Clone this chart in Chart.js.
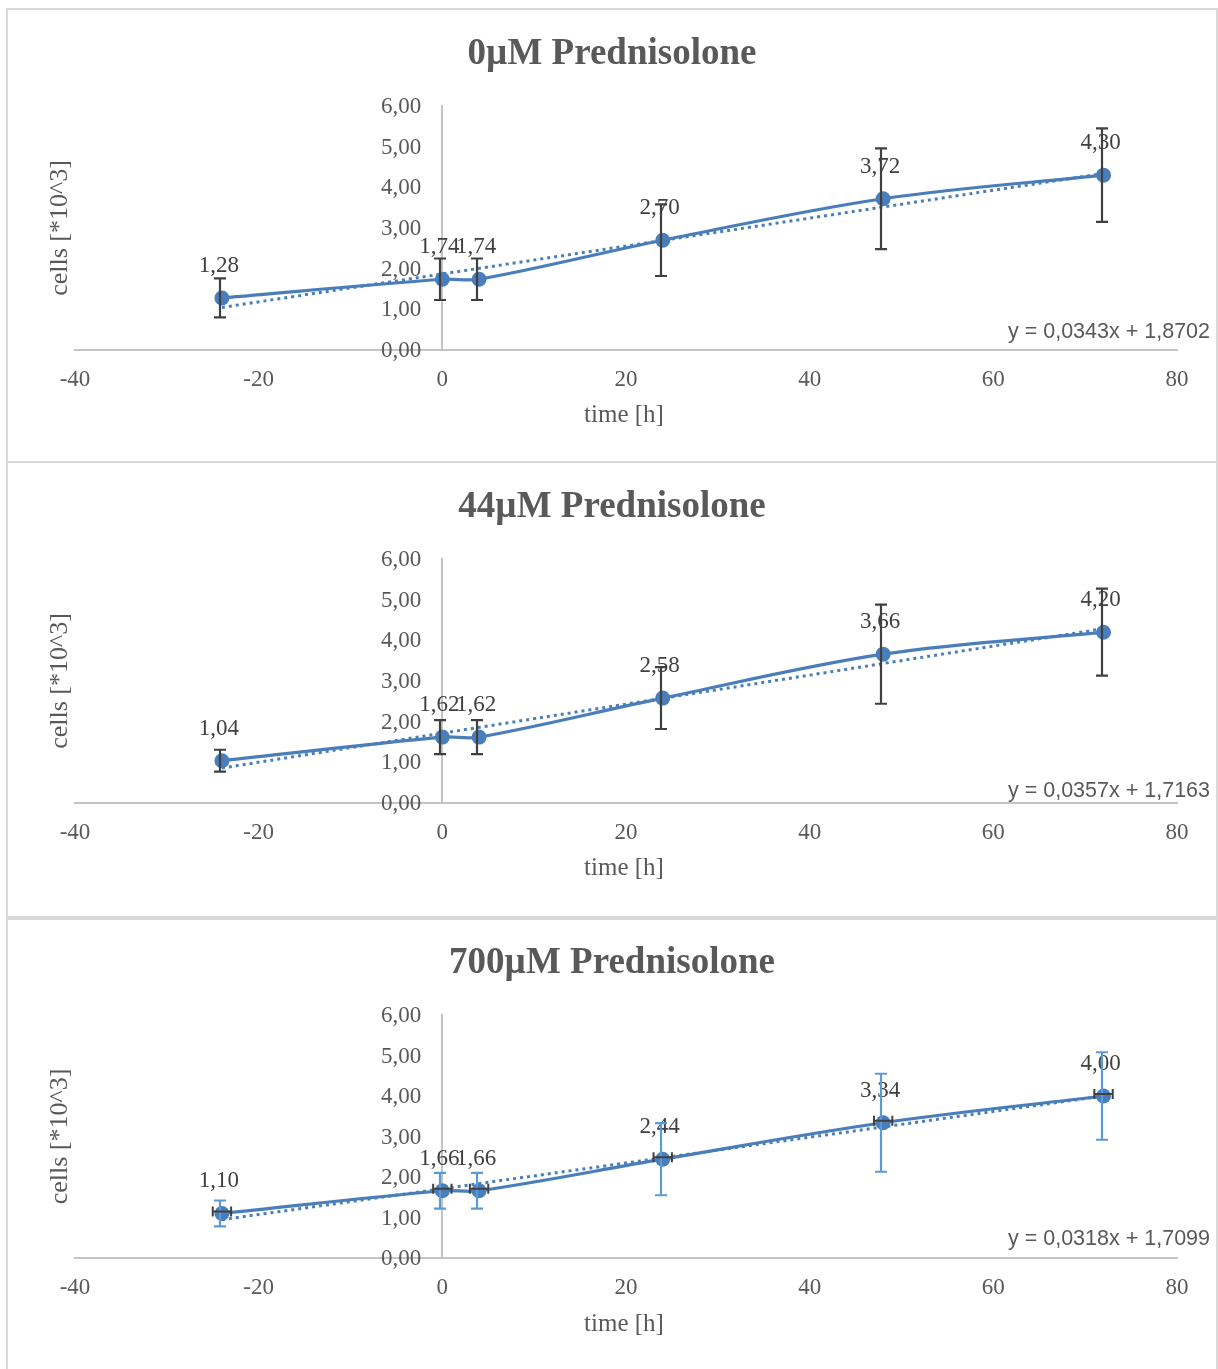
<!DOCTYPE html>
<html>
<head>
<meta charset="utf-8">
<script src="https://cdn.jsdelivr.net/npm/chart.js@4.4.1/dist/chart.umd.min.js"></script>
<style>
  html, body { margin: 0; padding: 0; background: #ffffff; overflow: hidden; }
  #wrap { position: relative; width: 1218px; height: 1369px; }
  canvas { position: absolute; left: 0; }
  .rule { position: absolute; background: #d9d9d9; z-index: 5; }
</style>
</head>
<body>
<div id="wrap">
  <canvas id="c0" width="1218" height="451" style="top:10px"></canvas>
  <canvas id="c1" width="1218" height="451" style="top:463px"></canvas>
  <canvas id="c2" width="1218" height="450" style="top:919px"></canvas>
  <div class="rule" style="left:6px;top:8px;width:1212px;height:2px"></div>
  <div class="rule" style="left:6px;top:8px;width:2px;height:1361px"></div>
  <div class="rule" style="left:1216px;top:8px;width:2px;height:1361px"></div>
  <div class="rule" style="left:6px;top:461px;width:1212px;height:2px"></div>
  <div class="rule" style="left:6px;top:916px;width:1212px;height:4px"></div>
</div>
<script>
// ---------- data ----------
const panelTitles = ['0µM Prednisolone', '44µM Prednisolone', '700µM Prednisolone'];
const times = [-24, 0, 4, 24, 48, 72];
const cells0 = [1.28, 1.74, 1.74, 2.70, 3.72, 4.30];
const cells44 = [1.04, 1.62, 1.62, 2.58, 3.66, 4.20];
const cells700 = [1.10, 1.66, 1.66, 2.44, 3.34, 4.00];
const yErr0 = [0.48, 0.51, 0.51, 0.88, 1.24, 1.15];
const yErr44 = [0.27, 0.42, 0.42, 0.76, 1.22, 1.07];
const yErr700 = [0.32, 0.44, 0.44, 0.89, 1.21, 1.08];
const xErr700 = [1, 1, 1, 1, 1, 1];
const trendTimes = [-24, 72];
const trend0 = [1.047, 4.340];
const trend44 = [0.860, 4.287];
const trend700 = [0.947, 4.000];
const eqSlopes = ['0,0343', '0,0357', '0,0318'];
const eqIntercepts = ['1,8702', '1,7163', '1,7099'];
const xTickMin = -40, xTickMax = 80, xTickStep = 20;
const yTickMin = 0, yTickMax = 6, yTickStep = 1;
const xTitle = 'time [h]';
const yTitle = 'cells [*10^3]';

const seriesValues = [cells0, cells44, cells700];
const seriesYErr = [yErr0, yErr44, yErr700];
const seriesXErr = [null, null, xErr700];
const seriesTrend = [trend0, trend44, trend700];

// ---------- style ----------
const BLUE = '#4a7ebb';
const LIGHTBLUE = '#5b9bd5';
const DARK = '#404040';
const GREY_TXT = '#595959';
const AXIS = '#c4c4c4';
const SERIF = '"Liberation Serif", "Times New Roman", serif';
const SANS = '"Liberation Sans", Arial, sans-serif';
const eqOffsets = [18, 12, 19];

const fmt = v => v.toFixed(2).replace('.', ',');

function makeAnnot(p) {
  return {
    id: 'annot' + p,
    afterDatasetsDraw(chart) {
      const { ctx, scales: { x, y } } = chart;
      const vals = seriesValues[p];
      ctx.save();
      // data labels
      ctx.font = '23px ' + SERIF;
      ctx.fillStyle = DARK;
      ctx.textAlign = 'center';
      ctx.textBaseline = 'middle';
      vals.forEach((v, i) => {
        const px = x.getPixelForValue(times[i]);
        const py = y.getPixelForValue(v);
        ctx.fillText(fmt(v), px - 3, py - 32);
      });
      // vertical error bars
      const ye = seriesYErr[p];
      ctx.strokeStyle = p === 2 ? LIGHTBLUE : DARK;
      ctx.lineWidth = 2.2;
      vals.forEach((v, i) => {
        const px = Math.round(x.getPixelForValue(times[i])) - 2;
        const y1 = y.getPixelForValue(v + ye[i]);
        const y2 = y.getPixelForValue(v - ye[i]);
        ctx.beginPath();
        ctx.moveTo(px, y1); ctx.lineTo(px, y2);
        ctx.moveTo(px - 6, y1); ctx.lineTo(px + 6, y1);
        ctx.moveTo(px - 6, y2); ctx.lineTo(px + 6, y2);
        ctx.stroke();
      });
      // horizontal error bars
      const xe = seriesXErr[p];
      if (xe) {
        ctx.strokeStyle = DARK;
        ctx.lineWidth = 2;
        vals.forEach((v, i) => {
          const py = y.getPixelForValue(v) - 2;
          const x1 = x.getPixelForValue(times[i] - xe[i]);
          const x2 = x.getPixelForValue(times[i] + xe[i]);
          ctx.beginPath();
          ctx.moveTo(x1, py); ctx.lineTo(x2, py);
          ctx.moveTo(x1, py - 5); ctx.lineTo(x1, py + 5);
          ctx.moveTo(x2, py - 5); ctx.lineTo(x2, py + 5);
          ctx.stroke();
        });
      }
      ctx.restore();
    },
    afterDraw(chart) {
      const { ctx, chartArea, scales: { x, y } } = chart;
      ctx.save();
      ctx.fillStyle = GREY_TXT;
      // y tick labels, from the y scale's own ticks, right-aligned left of the crossing axis
      ctx.font = '23px ' + SERIF;
      ctx.textAlign = 'right';
      ctx.textBaseline = 'middle';
      const x0 = x.getPixelForValue(0);
      y.ticks.forEach(t => {
        ctx.fillText(fmt(t.value), x0 - 21, y.getPixelForValue(t.value) + 1);
      });
      // panel title
      ctx.font = 'bold 37px ' + SERIF;
      ctx.textAlign = 'center';
      ctx.fillText(panelTitles[p], 612, 44);
      // x axis title
      ctx.font = '25px ' + SERIF;
      ctx.fillText(xTitle, (chartArea.left + chartArea.right) / 2 - 2, 405);
      // y axis title
      ctx.save();
      ctx.translate(60, (chartArea.top + chartArea.bottom) / 2);
      ctx.rotate(-Math.PI / 2);
      ctx.font = '26px ' + SERIF;
      ctx.fillText(yTitle, 0, 0);
      ctx.restore();
      // trendline equation
      ctx.font = '21.5px ' + SANS;
      ctx.textAlign = 'right';
      ctx.fillText('y = ' + eqSlopes[p] + 'x + ' + eqIntercepts[p], 1210, chartArea.bottom - eqOffsets[p]);
      ctx.restore();
    }
  };
}

function makeChart(p) {
  const vals = seriesValues[p];
  const trend = seriesTrend[p];
  return new Chart(document.getElementById('c' + p), {
    type: 'line',
    data: {
      datasets: [
        {
          label: 'cells',
          data: times.map((t, i) => ({ x: t, y: vals[i] })),
          borderColor: BLUE,
          backgroundColor: BLUE,
          borderWidth: 3.2,
          tension: 0.35,
          pointRadius: 7.5,
          pointHoverRadius: 7.5,
          pointBorderWidth: 0,
          pointBackgroundColor: BLUE,
          order: 1
        },
        {
          label: 'trend',
          data: trendTimes.map((t, i) => ({ x: t, y: trend[i] })),
          borderColor: BLUE,
          borderWidth: 3,
          borderDash: [3, 4],
          pointRadius: 0,
          tension: 0,
          order: 0
        }
      ]
    },
    options: {
      responsive: false,
      animation: false,
      events: [],
      layout: { padding: { top: 96, left: 75, right: 41, bottom: 111 } },
      plugins: { legend: { display: false }, tooltip: { enabled: false }, title: { display: false } },
      scales: {
        x: {
          type: 'linear',
          position: { y: 0 },
          min: xTickMin, max: xTickMax,
          grid: { display: false, drawTicks: false },
          border: { display: true, color: AXIS, width: 2 },
          ticks: { stepSize: xTickStep, padding: 16, color: GREY_TXT, font: { family: SERIF, size: 23 } }
        },
        y: {
          type: 'linear',
          position: { x: 0 },
          min: yTickMin, max: yTickMax,
          grid: { display: false, drawTicks: false },
          border: { display: true, color: AXIS, width: 2 },
          ticks: { display: false, stepSize: yTickStep }
        }
      }
    },
    plugins: [makeAnnot(p)]
  });
}

[0, 1, 2].forEach(makeChart);
</script>
</body>
</html>
